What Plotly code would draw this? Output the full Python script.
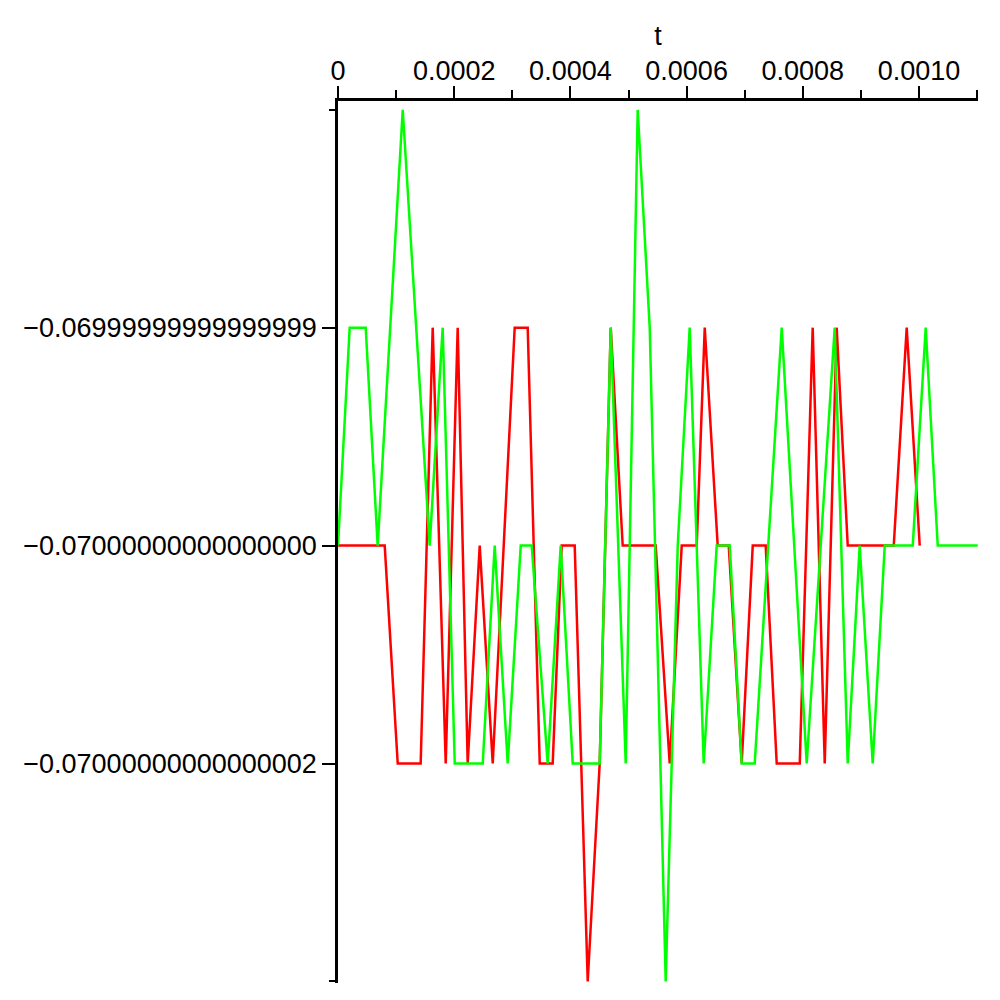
import plotly.graph_objects as go

# Time values (s) and quantised levels (in units of one ulp around -0.07)
t_red = [0.0, 0.0000804, 0.0001028, 0.0001423, 0.0001630, 0.0001854, 0.0002060,
         0.0002232, 0.0002439, 0.0002663, 0.0003041, 0.0003265, 0.0003472, 0.0003695,
         0.0003850, 0.0004074, 0.0004298, 0.0004504, 0.0004694, 0.0004900, 0.0005468,
         0.0005709, 0.0005916, 0.0006174, 0.0006312, 0.0006535, 0.0006725, 0.0006948,
         0.0007138, 0.0007361, 0.0007551, 0.0007947, 0.0008170, 0.0008377, 0.0008583,
         0.0008773, 0.0009565, 0.0009788, 0.0010012]
lvl_red = [0, 0, -1, -1, 1, -1, 1, -1, 0, -1, 1, 1, -1, -1, 0, 0, -2, -1, 1, 0, 0,
           -1, 0, 0, 1, 0, 0, -1, 0, 0, -1, -1, 1, -1, 1, 0, 0, 1, 0]

t_green = [0.0, 0.0000201, 0.0000477, 0.0000683, 0.0001114, 0.0001578, 0.0001802,
           0.0002009, 0.0002491, 0.0002697, 0.0002921, 0.0003145, 0.0003334, 0.0003609,
           0.0003833, 0.0004040, 0.0004504, 0.0004694, 0.0004952, 0.0005158, 0.0005365,
           0.0005640, 0.0005847, 0.0006053, 0.0006294, 0.0006518, 0.0006742, 0.0006948,
           0.0007172, 0.0007637, 0.0008067, 0.0008549, 0.0008773, 0.0008979, 0.0009203,
           0.0009410, 0.0009892, 0.0010115, 0.0010322, 0.0011010]
lvl_green = [0, 1, 1, 0, 2, 0, 1, -1, -1, 0, -1, 0, 0, -1, 0, -1, -1, 1, -1, 2, 1,
             -2, 0, 1, -1, 0, 0, -1, -1, 1, -1, 1, -1, 0, -1, 0, 0, 1, 0, 0]

x_tick_vals = [0.0, 0.0002, 0.0004, 0.0006, 0.0008, 0.0010]
x_tick_labels = ["0", "0.0002", "0.0004", "0.0006", "0.0008", "0.0010"]
x_minor_vals = [0.0001, 0.0003, 0.0005, 0.0007, 0.0009, 0.0011]

y_tick_vals = [-1, 0, 1]
y_tick_labels = ["\u22120.07000000000000002", "\u22120.07000000000000000", "\u22120.06999999999999999"]
y_minor_vals = [-2, 2]

FONT = "Liberation Sans"

fig = go.Figure()
fig.add_trace(go.Scatter(x=t_red, y=lvl_red, mode="lines",
                         line=dict(color="#ff0000", width=2.5), showlegend=False))
fig.add_trace(go.Scatter(x=t_green, y=lvl_green, mode="lines",
                         line=dict(color="#00ff00", width=2.5), showlegend=False))

fig.update_layout(
    width=1000, height=1000,
    margin=dict(l=338, r=22, t=101, b=17, autoexpand=False),
    paper_bgcolor="white", plot_bgcolor="white",
    font=dict(family=FONT, size=27, color="black"),
    xaxis=dict(
        side="top", range=[0, 0.0011015],
        showline=True, linecolor="black", linewidth=2.5,
        ticks="outside", ticklen=12, tickwidth=2, tickcolor="black",
        tickmode="array", tickvals=x_tick_vals, ticktext=x_tick_labels,
        ticklabelstandoff=-5,
        minor=dict(tickmode="array", tickvals=x_minor_vals, ticks="outside",
                   ticklen=8, tickwidth=2, tickcolor="black", showgrid=False),
        showgrid=False, zeroline=False,
        title=dict(text="t", standoff=4, font=dict(family=FONT, size=27)),
        tickfont=dict(family=FONT, size=27),
    ),
    yaxis=dict(
        range=[-2.007, 2.040],
        showline=True, linecolor="black", linewidth=2.5,
        ticks="outside", ticklen=13, tickwidth=2, tickcolor="black",
        tickmode="array", tickvals=y_tick_vals, ticktext=y_tick_labels,
        minor=dict(tickmode="array", tickvals=y_minor_vals, ticks="outside",
                   ticklen=6, tickwidth=2, tickcolor="black", showgrid=False),
        showgrid=False, zeroline=False,
        tickfont=dict(family=FONT, size=27),
    ),
)

fig.write_html("out.html", config={"displayModeBar": False},
               post_script="document.body.style.margin='0';")
